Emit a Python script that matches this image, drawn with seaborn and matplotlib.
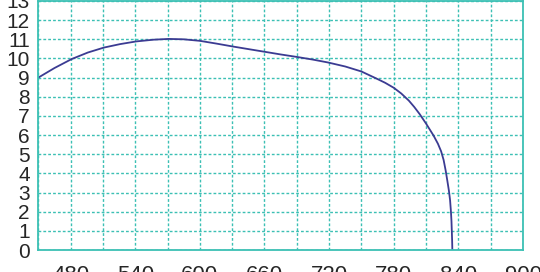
import matplotlib
matplotlib.use("Agg")
import matplotlib.pyplot as plt
import seaborn as sns
import pandas as pd
from matplotlib.ticker import MultipleLocator

# Data
x_vals = [450, 465, 481, 496, 511, 526, 541, 557, 571, 585, 600, 615, 631, 646, 660,
          675, 690, 705, 719, 735, 750, 764, 772, 780, 787, 794, 799, 804, 810, 817,
          821, 824, 826.3, 828.2, 829.8, 831.2, 832.3, 833.1, 833.6, 833.9, 834.2, 834.4]
y_vals = [9.0, 9.5, 9.97, 10.31, 10.57, 10.75, 10.89, 10.98, 11.02, 11.0, 10.92, 10.78, 10.62, 10.48, 10.35,
          10.21, 10.08, 9.94, 9.79, 9.58, 9.32, 8.95, 8.73, 8.47, 8.17, 7.8, 7.47, 7.1, 6.6, 5.97,
          5.55, 5.15, 4.7, 4.15, 3.6, 3.1, 2.6, 2.0, 1.5, 1.0, 0.5, 0.0]
x_ticks = [480, 540, 600, 660, 720, 780, 840, 900]
y_ticks = list(range(0, 14))

sns.set_style("white")
plt.rcParams['font.family'] = ['Liberation Sans', 'DejaVu Sans']

grid_col = "#3cc0b4"
line_col = "#3b3b92"

fig = plt.figure(figsize=(5.4, 2.72), dpi=100)
ax = fig.add_axes([38.3 / 540, (272 - 250) / 272, (523 - 38.3) / 540, 249 / 272])

df = pd.DataFrame({"x": x_vals, "y": y_vals})
sns.lineplot(data=df, x="x", y="y", ax=ax, color=line_col, linewidth=1.3,
             sort=False, estimator=None)

ax.set_xlim(450, 900)
ax.set_ylim(0, 13)
ax.set_xticks(x_ticks)
ax.set_xticklabels([str(t) for t in x_ticks])
ax.xaxis.set_minor_locator(MultipleLocator(30))
ax.set_yticks(y_ticks)
ax.set_yticklabels([str(t) for t in y_ticks])

ax.grid(True, which="both", axis="x", color=grid_col, linestyle=(0, (2, 1.5)), linewidth=1)
ax.grid(True, which="major", axis="y", color=grid_col, linestyle=(0, (2, 1.5)), linewidth=1)
ax.set_axisbelow(True)

ax.tick_params(axis="both", which="both", length=0)
ax.tick_params(axis="x", pad=10.5, labelsize=16)
ax.tick_params(axis="y", pad=6, labelsize=15)

for s in ax.spines.values():
    s.set_color(grid_col)
    s.set_linewidth(1.3)

ax.set_xlabel("")
ax.set_ylabel("")

fig.savefig("out.png", dpi=100)
